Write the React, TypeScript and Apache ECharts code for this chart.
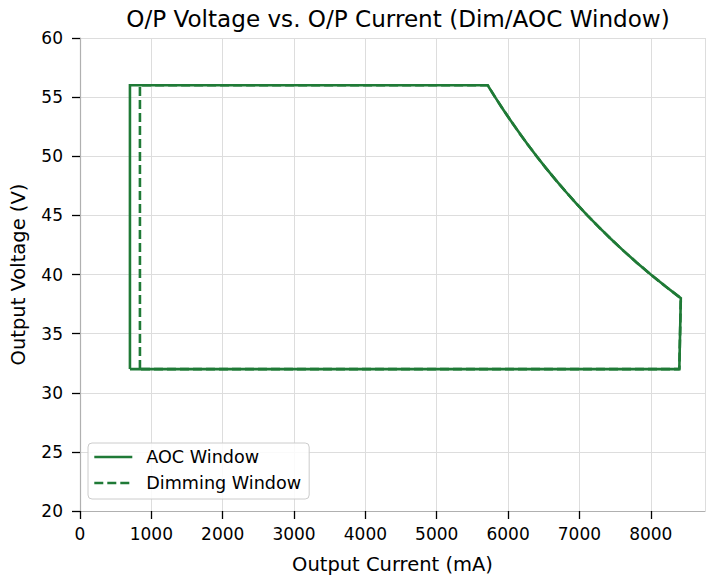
import React, { useEffect, useRef } from "react";
import * as echarts from "echarts";

// Constant-power boundary (voltage V, current mA)
const curveVoltage = [56, 55, 54, 53, 52, 51, 50, 49, 48, 47, 46, 45, 44, 43, 42, 41, 40, 39, 38];
const curveCurrent = [5714, 5818, 5926, 6038, 6154, 6275, 6400, 6531, 6667, 6809, 6957, 7111, 7273, 7442, 7619, 7805, 8000, 8205, 8421];

const aocMinCurrent = 700;
const dimMinCurrent = 840;
const minVoltage = 32;
const maxVoltage = 56;
const bottomRightCurrent = 8400;

const seriesNames = ["AOC Window", "Dimming Window"];

const xTicks = [0, 1000, 2000, 3000, 4000, 5000, 6000, 7000, 8000];
const yTicks = [20, 25, 30, 35, 40, 45, 50, 55, 60];

const GREEN = "#1f7a36";
const FONT = "DejaVu Sans";

function windowPath(leftCurrent: number): number[][] {
  const pts: number[][] = [[leftCurrent, minVoltage], [leftCurrent, maxVoltage]];
  for (let i = 0; i < curveVoltage.length; i++) pts.push([curveCurrent[i], curveVoltage[i]]);
  pts.push([bottomRightCurrent, minVoltage]);
  pts.push([leftCurrent, minVoltage]);
  return pts;
}

export default function App() {
  const ref = useRef<HTMLDivElement>(null);
  useEffect(() => {
    if (!ref.current) return;
    const chart = echarts.init(ref.current, undefined, { renderer: "svg" });
    chart.setOption({
      animation: false,
      backgroundColor: "#ffffff",
      textStyle: { fontFamily: FONT },
      title: {
        text: "O/P Voltage vs. O/P Current (Dim/AOC Window)",
        left: 393,
        top: 2,
        textAlign: "center",
        textStyle: { fontFamily: FONT, fontSize: 23.1, fontWeight: "normal", color: "#000" },
      },
      grid: { left: 79, top: 38, right: 1, bottom: 69, containLabel: false },
      legend: {
        orient: "vertical",
        left: 88,
        top: 443,
        data: seriesNames,
        itemWidth: 38,
        itemHeight: 14,
        itemGap: 8,
        padding: [5, 8, 7, 5],
        backgroundColor: "rgba(255,255,255,0.85)",
        borderColor: "#cccccc",
        borderWidth: 1,
        borderRadius: 4,
        itemStyle: { opacity: 0 },
        lineStyle: { width: 2.6 },
        textStyle: { fontFamily: FONT, fontSize: 17.6, color: "#000", padding: [0, 0, 0, 9] },
      },
      xAxis: {
        type: "value",
        min: xTicks[0],
        max: 8760,
        interval: 1000,
        name: "Output Current (mA)",
        nameLocation: "middle",
        nameGap: 43,
        nameTextStyle: { fontFamily: FONT, fontSize: 19.5, color: "#000" },
        axisLine: { show: true, lineStyle: { color: "#b0b0b0", width: 1.2 } },
        axisTick: { show: true, length: 8, lineStyle: { color: "#000", width: 1.3 } },
        axisLabel: {
          margin: 14,
          fontFamily: FONT,
          fontSize: 17,
          color: "#000",
          showMaxLabel: false,
          formatter: (v: number) => (xTicks.indexOf(v) >= 0 ? String(v) : ""),
        },
        splitLine: { show: true, lineStyle: { color: "#dddddd", width: 1 } },
      },
      yAxis: {
        type: "value",
        min: yTicks[0],
        max: yTicks[yTicks.length - 1],
        interval: 5,
        name: "Output Voltage (V)",
        nameLocation: "middle",
        nameGap: 52,
        nameTextStyle: { fontFamily: FONT, fontSize: 19.5, color: "#000" },
        axisLine: { show: true, lineStyle: { color: "#b0b0b0", width: 1.2 } },
        axisTick: { show: true, length: 8, lineStyle: { color: "#000", width: 1.3 } },
        axisLabel: { margin: 17, fontFamily: FONT, fontSize: 17, color: "#000" },
        splitLine: { show: true, lineStyle: { color: "#dddddd", width: 1 } },
      },
      series: [
        {
          name: seriesNames[0],
          type: "line",
          data: windowPath(aocMinCurrent),
          showSymbol: false,
          symbol: "none",
          lineStyle: { color: GREEN, width: 2.6, type: "solid", join: "miter" },
          itemStyle: { color: GREEN },
          z: 3,
        },
        {
          name: seriesNames[1],
          type: "line",
          data: windowPath(dimMinCurrent),
          showSymbol: false,
          symbol: "none",
          lineStyle: { color: GREEN, width: 2.6, type: [9, 4] },
          itemStyle: { color: GREEN },
          z: 2,
        },
      ],
    });
    return () => chart.dispose();
  }, []);
  return (
    <div
      ref={ref}
      style={{ position: "fixed", left: 0, top: 0, width: 706, height: 580 }}
    />
  );
}
